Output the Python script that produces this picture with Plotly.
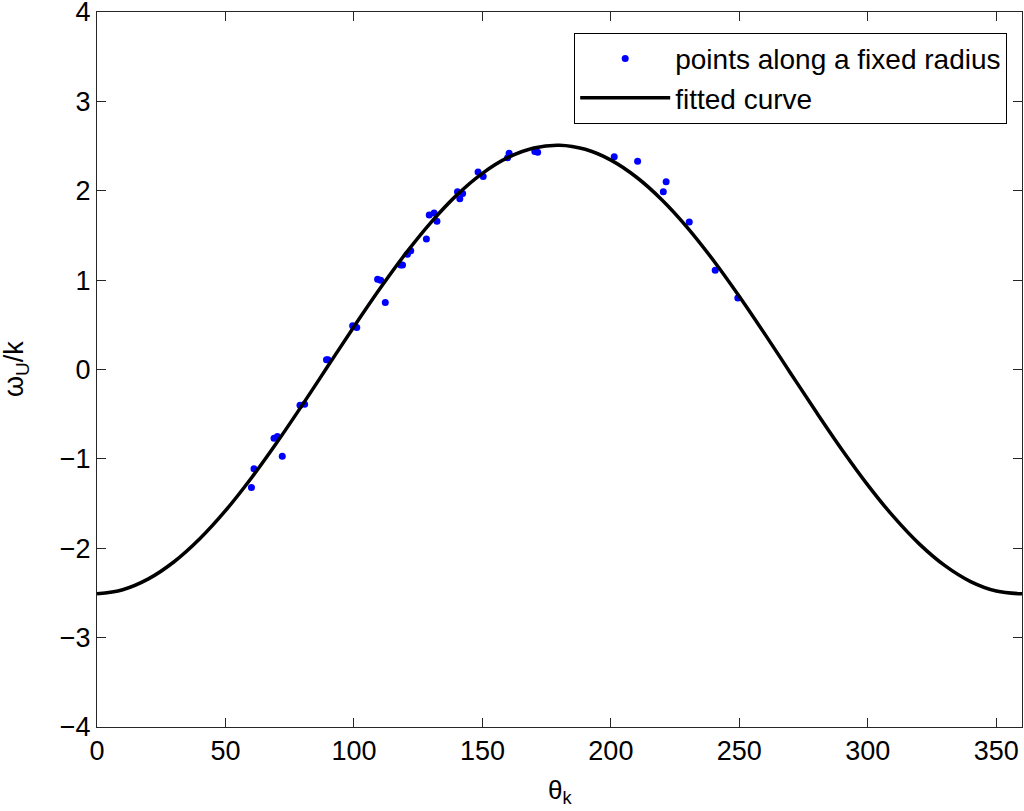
import plotly.graph_objects as go

# scatter data
theta_pts = [60.1, 61.1, 68.9, 70.2, 72.1, 79.0, 80.8, 89.3, 89.9, 99.5, 101.1, 109.2, 110.4, 112.2,
             118.2, 118.9, 120.8, 122.1, 128.2, 129.3, 131.2, 132.3, 140.3, 141.2, 142.3, 148.3,
             150.3, 159.8, 160.4, 170.4, 171.5, 201.3, 210.4, 220.4, 221.5, 230.5, 240.6, 249.4]
omega_pts = [-1.32, -1.11, -0.77, -0.75, -0.97, -0.40, -0.39, 0.11, 0.11, 0.49, 0.47, 1.01, 1.00, 0.75,
             1.17, 1.17, 1.29, 1.33, 1.46, 1.73, 1.75, 1.66, 1.99, 1.91, 1.97, 2.21,
             2.16, 2.37, 2.42, 2.44, 2.43, 2.38, 2.33, 1.99, 2.10, 1.65, 1.11, 0.80]

# fitted curve values read at 10 degree steps
theta_fit = [0, 10, 20, 30, 40, 50, 60, 70, 80, 90, 100, 110, 120, 130, 140, 150, 160, 170, 180,
             190, 200, 210, 220, 230, 240, 250, 260, 270, 280, 290, 300, 310, 320, 330, 340, 350, 360]
omega_fit = [-2.510, -2.464, -2.343, -2.151, -1.894, -1.580, -1.217, -0.817, -0.393, 0.044,
             0.479, 0.900, 1.293, 1.647, 1.951, 2.195, 2.373, 2.479, 2.510,
             2.464, 2.343, 2.151, 1.894, 1.580, 1.217, 0.817, 0.393, -0.044,
             -0.479, -0.900, -1.293, -1.647, -1.951, -2.195, -2.373, -2.479, -2.510]

x_ticks = [0, 50, 100, 150, 200, 250, 300, 350]
y_ticks = [-4, -3, -2, -1, 0, 1, 2, 3, 4]

FONT = "Liberation Sans, Arial, Helvetica, sans-serif"

fig = go.Figure()
fig.add_trace(go.Scatter(x=theta_pts, y=omega_pts, mode="markers",
                         marker=dict(color="#0000ff", size=7),
                         name="points along a fixed radius"))
fig.add_trace(go.Scatter(x=theta_fit, y=omega_fit, mode="lines",
                         line=dict(color="black", width=3.5, shape="spline"),
                         name="fitted curve"))

axis_common = dict(showgrid=False, zeroline=False, showline=True, linecolor="#262626", linewidth=1,
                   mirror="ticks", ticks="inside", ticklen=9, tickcolor="#262626", tickwidth=1,
                   automargin=False, ticklabeloverflow="allow",
                   tickfont=dict(family=FONT, size=27, color="black"))

fig.update_layout(
    width=1024, height=811,
    margin=dict(l=97, r=2, t=12, b=84),
    paper_bgcolor="white", plot_bgcolor="white",
    xaxis=dict(range=[0, 360], tickvals=x_ticks, **axis_common),
    yaxis=dict(range=[-4, 4], tickvals=y_ticks, **axis_common),
    legend=dict(x=0.984, y=0.971, xanchor="right", yanchor="top",
                bordercolor="black", borderwidth=1, bgcolor="white",
                font=dict(family=FONT, size=28, color="black"),
                itemwidth=90, tracegroupgap=0),
    showlegend=True,
    annotations=[
        dict(text="θ<sub>k</sub>", xref="paper", yref="paper", x=0.5, y=-0.064,
             xanchor="center", yanchor="top", showarrow=False,
             font=dict(family=FONT, size=26, color="black")),
        dict(text="ω<sub>U</sub>/k", xref="paper", yref="paper", x=-0.088, y=0.5,
             xanchor="center", yanchor="middle", textangle=-90, showarrow=False,
             font=dict(family=FONT, size=27, color="black")),
    ],
)

fig.write_html("out.html", config={"displayModeBar": False},
               post_script="document.body.style.margin='0';")
